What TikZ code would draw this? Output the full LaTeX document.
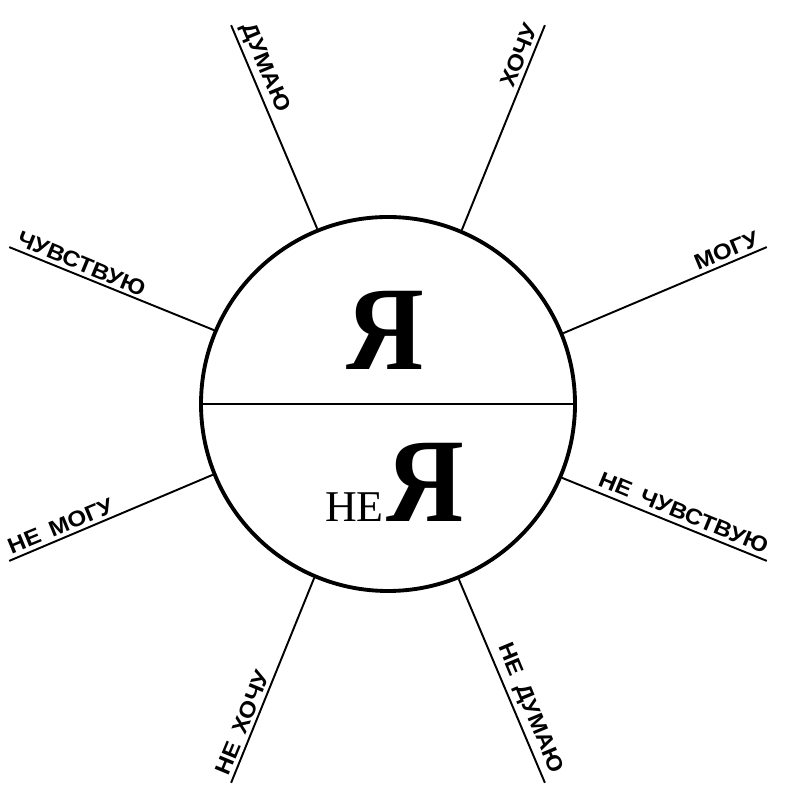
\documentclass[tikz,border=0pt]{standalone}
\usepackage{fontspec}
\setmainfont{Liberation Serif}
\newfontfamily\spokefont[WordSpace=1.6]{Liberation Sans}
\usetikzlibrary{calc,positioning}
\tikzset{
    self circle/.style={
        draw,circle,line width=2.2pt,
        minimum size=7.48cm,inner sep=0pt
    },
    spoke/.style={line width=1.1pt},
    spoke label/.style={
        font=\spokefont\bfseries\fontsize{12.5}{15}\selectfont,
        inner sep=2.5pt
    },
    big letter/.style={inner sep=0pt,anchor=base}
}
\newcommand{\wide}[1]{\scalebox{1.1}[1]{#1}}

\begin{document}
\begin{tikzpicture}
\useasboundingbox (0,0) rectangle (15.7,15.8);
\coordinate (c) at (7.76,7.72);
\node[self circle] (self) at (c) {};
\draw[line width=1.6pt] (self.west) -- (self.east);
\node[big letter,font=\fontsize{68}{68}\selectfont\bfseries] (ya) at (7.70,8.4) {\scalebox{0.9}[1]{Я}};
\node[big letter,font=\fontsize{68}{68}\selectfont\bfseries] (notya) at (8.5,5.36) {\scalebox{0.9}[1]{Я}};
\node[big letter,font=\fontsize{25}{25}\selectfont,left=1pt of notya.base west,anchor=base east] (ne) {НЕ};
% eight spokes: angle/label/rotation/anchor
\foreach \ang/\txt/\rot/\anc [count=\i] in {
    22.5/МОГУ/22.5/south east,
    67.5/ХОЧУ/67.5/south east,
    112.5/ДУМАЮ/-67.5/south west,
    157.5/ЧУВСТВУЮ/-22.5/south west,
    202.5/НЕ МОГУ/22.5/south west,
    247.5/НЕ ХОЧУ/67.5/south west,
    292.5/НЕ ДУМАЮ/-67.5/south east,
    337.5/НЕ ЧУВСТВУЮ/-22.5/south east}
{
    \coordinate (end\i) at ($(c)+(\ang:8.2)$);
    \draw[spoke] (self.\ang) -- (end\i);
    \node[spoke label,rotate=\rot,anchor=\anc] (lab\i) at (end\i) {\wide{\txt}};
}
\end{tikzpicture}
\end{document}
